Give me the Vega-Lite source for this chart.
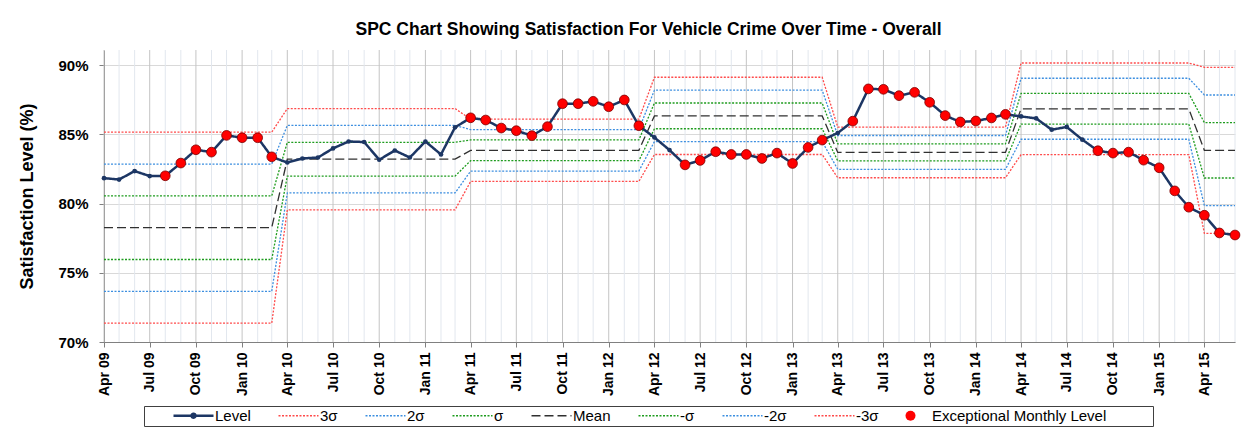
{
  "$schema": "https://vega.github.io/schema/vega-lite/v6.json",
  "width": 1131,
  "height": 292,
  "autosize": {"type": "none"},
  "padding": {"left": 104, "top": 50, "right": 20, "bottom": 87},
  "background": "white",
  "config": {"font": "Liberation Sans", "view": {"stroke": null}},
  "title": {
    "text": "SPC Chart Showing Satisfaction For Vehicle Crime Over Time - Overall",
    "fontSize": 17.5, "fontWeight": "bold", "color": "black",
    "anchor": "middle", "dx": -21, "offset": -7, "baseline": "bottom"
  },
  "datasets": {
    "limits": [
      {"seg": 1, "p3": 85.16, "p2": 82.86, "p1": 80.56, "mean": 78.26, "m1": 75.96, "m2": 73.66, "m3": 71.36},
      {"seg": 2, "p3": 86.87, "p2": 85.65, "p1": 84.43, "mean": 83.21, "m1": 81.99, "m2": 80.77, "m3": 79.55},
      {"seg": 3, "p3": 86.1, "p2": 85.35, "p1": 84.6, "mean": 83.85, "m1": 83.1, "m2": 82.35, "m3": 81.6},
      {"seg": 4, "p3": 89.13, "p2": 88.2, "p1": 87.27, "mean": 86.34, "m1": 85.41, "m2": 84.48, "m3": 83.55},
      {"seg": 5, "p3": 85.53, "p2": 84.92, "p1": 84.31, "mean": 83.7, "m1": 83.09, "m2": 82.48, "m3": 81.87},
      {"seg": 6, "p3": 90.16, "p2": 89.06, "p1": 87.96, "mean": 86.85, "m1": 85.75, "m2": 84.65, "m3": 83.54},
      {"seg": 7, "p3": 89.85, "p2": 87.85, "p1": 85.85, "mean": 83.85, "m1": 81.85, "m2": 79.85, "m3": 77.85}
    ]
  },
  "data": {
    "format": {"parse": {"m": "date:'%Y-%m'"}},
    "values": [
      {"m": "2009-04", "seg": 1, "level": 81.84, "exc": 0},
      {"m": "2009-05", "seg": 1, "level": 81.74, "exc": 0},
      {"m": "2009-06", "seg": 1, "level": 82.35, "exc": 0},
      {"m": "2009-07", "seg": 1, "level": 81.99, "exc": 0},
      {"m": "2009-08", "seg": 1, "level": 82.01, "exc": 1},
      {"m": "2009-09", "seg": 1, "level": 82.93, "exc": 1},
      {"m": "2009-10", "seg": 1, "level": 83.89, "exc": 1},
      {"m": "2009-11", "seg": 1, "level": 83.72, "exc": 1},
      {"m": "2009-12", "seg": 1, "level": 84.93, "exc": 1},
      {"m": "2010-01", "seg": 1, "level": 84.76, "exc": 1},
      {"m": "2010-02", "seg": 1, "level": 84.76, "exc": 1},
      {"m": "2010-03", "seg": 1, "level": 83.38, "exc": 1},
      {"m": "2010-04", "seg": 2, "level": 82.97, "exc": 0},
      {"m": "2010-05", "seg": 2, "level": 83.26, "exc": 0},
      {"m": "2010-06", "seg": 2, "level": 83.33, "exc": 0},
      {"m": "2010-07", "seg": 2, "level": 83.99, "exc": 0},
      {"m": "2010-08", "seg": 2, "level": 84.49, "exc": 0},
      {"m": "2010-09", "seg": 2, "level": 84.45, "exc": 0},
      {"m": "2010-10", "seg": 2, "level": 83.17, "exc": 0},
      {"m": "2010-11", "seg": 2, "level": 83.84, "exc": 0},
      {"m": "2010-12", "seg": 2, "level": 83.33, "exc": 0},
      {"m": "2011-01", "seg": 2, "level": 84.49, "exc": 0},
      {"m": "2011-02", "seg": 2, "level": 83.55, "exc": 0},
      {"m": "2011-03", "seg": 2, "level": 85.51, "exc": 0},
      {"m": "2011-04", "seg": 3, "level": 86.2, "exc": 1},
      {"m": "2011-05", "seg": 3, "level": 86.04, "exc": 1},
      {"m": "2011-06", "seg": 3, "level": 85.46, "exc": 1},
      {"m": "2011-07", "seg": 3, "level": 85.27, "exc": 1},
      {"m": "2011-08", "seg": 3, "level": 84.91, "exc": 1},
      {"m": "2011-09", "seg": 3, "level": 85.56, "exc": 1},
      {"m": "2011-10", "seg": 3, "level": 87.22, "exc": 1},
      {"m": "2011-11", "seg": 3, "level": 87.22, "exc": 1},
      {"m": "2011-12", "seg": 3, "level": 87.39, "exc": 1},
      {"m": "2012-01", "seg": 3, "level": 87.0, "exc": 1},
      {"m": "2012-02", "seg": 3, "level": 87.49, "exc": 1},
      {"m": "2012-03", "seg": 3, "level": 85.63, "exc": 1},
      {"m": "2012-04", "seg": 4, "level": 84.78, "exc": 0},
      {"m": "2012-05", "seg": 4, "level": 83.87, "exc": 0},
      {"m": "2012-06", "seg": 4, "level": 82.8, "exc": 1},
      {"m": "2012-07", "seg": 4, "level": 83.12, "exc": 1},
      {"m": "2012-08", "seg": 4, "level": 83.75, "exc": 1},
      {"m": "2012-09", "seg": 4, "level": 83.55, "exc": 1},
      {"m": "2012-10", "seg": 4, "level": 83.55, "exc": 1},
      {"m": "2012-11", "seg": 4, "level": 83.26, "exc": 1},
      {"m": "2012-12", "seg": 4, "level": 83.65, "exc": 1},
      {"m": "2013-01", "seg": 4, "level": 82.9, "exc": 1},
      {"m": "2013-02", "seg": 4, "level": 84.06, "exc": 1},
      {"m": "2013-03", "seg": 4, "level": 84.59, "exc": 1},
      {"m": "2013-04", "seg": 5, "level": 85.1, "exc": 0},
      {"m": "2013-05", "seg": 5, "level": 85.96, "exc": 1},
      {"m": "2013-06", "seg": 5, "level": 88.29, "exc": 1},
      {"m": "2013-07", "seg": 5, "level": 88.26, "exc": 1},
      {"m": "2013-08", "seg": 5, "level": 87.8, "exc": 1},
      {"m": "2013-09", "seg": 5, "level": 88.04, "exc": 1},
      {"m": "2013-10", "seg": 5, "level": 87.32, "exc": 1},
      {"m": "2013-11", "seg": 5, "level": 86.36, "exc": 1},
      {"m": "2013-12", "seg": 5, "level": 85.9, "exc": 1},
      {"m": "2014-01", "seg": 5, "level": 85.97, "exc": 1},
      {"m": "2014-02", "seg": 5, "level": 86.19, "exc": 1},
      {"m": "2014-03", "seg": 5, "level": 86.45, "exc": 1},
      {"m": "2014-04", "seg": 6, "level": 86.3, "exc": 0},
      {"m": "2014-05", "seg": 6, "level": 86.16, "exc": 0},
      {"m": "2014-06", "seg": 6, "level": 85.34, "exc": 0},
      {"m": "2014-07", "seg": 6, "level": 85.54, "exc": 0},
      {"m": "2014-08", "seg": 6, "level": 84.62, "exc": 0},
      {"m": "2014-09", "seg": 6, "level": 83.82, "exc": 1},
      {"m": "2014-10", "seg": 6, "level": 83.65, "exc": 1},
      {"m": "2014-11", "seg": 6, "level": 83.72, "exc": 1},
      {"m": "2014-12", "seg": 6, "level": 83.14, "exc": 1},
      {"m": "2015-01", "seg": 6, "level": 82.59, "exc": 1},
      {"m": "2015-02", "seg": 6, "level": 80.92, "exc": 1},
      {"m": "2015-03", "seg": 6, "level": 79.74, "exc": 1},
      {"m": "2015-04", "seg": 7, "level": 79.16, "exc": 1},
      {"m": "2015-05", "seg": 7, "level": 77.88, "exc": 1},
      {"m": "2015-06", "seg": 7, "level": 77.73, "exc": 1}
    ]
  },
  "transform": [
    {"lookup": "seg", "from": {"data": {"name": "limits"}, "key": "seg", "fields": ["p3", "p2", "p1", "mean", "m1", "m2", "m3"]}}
  ],
  "encoding": {
    "x": {
      "field": "m", "type": "temporal",
      "scale": {"domain": [{"year": 2009, "month": 4, "date": 1}, {"year": 2015, "month": 6, "date": 1}], "nice": false},
      "axis": {
        "title": null, "format": "%b %y", "tickCount": {"interval": "month", "step": 3},
        "labelAngle": -90, "labelFontSize": 14, "labelFontWeight": "bold", "labelColor": "black",
        "labelPadding": 5, "labelFlush": false, "labelOverlap": false, "labelBound": false,
        "tickSize": 5, "tickColor": "#808080", "domainColor": "#808080", "grid": false
      }
    }
  },
  "layer": [
    {
      "mark": {"type": "rule", "strokeWidth": 1},
      "encoding": {
        "color": {"condition": {"test": "month(datum.m) % 3 === 0", "value": "#c4c4c4"}, "value": "#e2e7ee"}
      }
    },
    {
      "transform": [{"fold": ["p3", "p2", "p1", "mean", "m1", "m2", "m3"], "as": ["key", "val"]}],
      "mark": {"type": "line", "strokeWidth": 1.3},
      "encoding": {
        "y": {
          "field": "val", "type": "quantitative",
          "scale": {"domain": [70, 91.1], "nice": false, "zero": false},
          "axis": {
            "values": [70, 75, 80, 85, 90], "labelExpr": "datum.value + '%'",
            "labelFontSize": 15, "labelFontWeight": "bold", "labelColor": "black", "labelPadding": 11,
            "tickSize": 5, "tickColor": "#808080", "domainColor": "#808080",
            "gridColor": "#d9d9d9",
            "title": "Satisfaction   Level   (%)", "titleFontSize": 18, "titleFontWeight": "bold",
            "titleColor": "black", "titlePadding": 21
          }
        },
        "detail": {"field": "key"},
        "color": {
          "field": "key", "type": "nominal",
          "scale": {
            "domain": ["level", "p3", "p2", "p1", "mean", "m1", "m2", "m3", "exc"],
            "range": ["#1c3664", "#ff4b4b", "#3d8fe0", "#1e9c1e", "#303030", "#1e9c1e", "#3d8fe0", "#ff4b4b", "#ff0000"]
          },
          "legend": {
            "title": " ", "titleOrient": "left", "titlePadding": 40,
            "orient": "none", "legendX": 40, "legendY": 356, "direction": "horizontal", "columns": 9,
            "columnPadding": 24, "padding": 2, "strokeColor": "#404040", "fillColor": "white",
            "labelFontSize": 15, "labelColor": "black", "labelOffset": 14, "labelLimit": 400,
            "symbolType": "stroke", "symbolSize": 1600, "symbolStrokeWidth": 1.3,
            "labelExpr": "datum.value === 'level' ? 'Level' : datum.value === 'p3' ? '3σ' : datum.value === 'p2' ? '2σ' : datum.value === 'p1' ? 'σ' : datum.value === 'mean' ? 'Mean' : datum.value === 'm1' ? '-σ' : datum.value === 'm2' ? '-2σ' : datum.value === 'm3' ? '-3σ' : 'Exceptional Monthly Level\u2800\u2800\u2800\u2800'",
            "encode": {
              "symbols": {
                "update": {
                  "shape": {"signal": "datum.value === 'exc' ? 'circle' : datum.value === 'level' ? 'M-1,0H1M-0.1,0A0.1,0.1 0 1,0 0.1,0A0.1,0.1 0 1,0 -0.1,0' : 'stroke'"},
                  "size": {"signal": "datum.value === 'exc' ? 100 : 1600"},
                  "fill": {"signal": "datum.value === 'exc' ? '#ff0000' : 'transparent'"},
                  "strokeWidth": {"signal": "datum.value === 'level' ? 2.5 : datum.value === 'exc' ? 0 : 1.3"}
                }
              }
            }
          }
        },
        "strokeDash": {
          "field": "key", "type": "nominal",
          "scale": {
            "domain": ["level", "p3", "p2", "p1", "mean", "m1", "m2", "m3", "exc"],
            "range": [[1, 0], [2, 1.5], [2, 1.5], [2, 1.5], [9, 4], [2, 1.5], [2, 1.5], [2, 1.5], [1, 0]]
          }
        }
      }
    },
    {
      "mark": {"type": "line", "strokeWidth": 2.5, "point": {"filled": true, "size": 22}},
      "encoding": {
        "y": {"field": "level", "type": "quantitative"},
        "color": {"datum": "level"},
        "strokeDash": {"datum": "level"}
      }
    },
    {
      "transform": [{"filter": "datum.exc === 1"}],
      "mark": {"type": "point", "filled": true, "size": 95, "opacity": 1, "stroke": "#7a0000", "strokeWidth": 0.8},
      "encoding": {
        "y": {"field": "level", "type": "quantitative"},
        "color": {"datum": "exc"}
      }
    }
  ]
}
